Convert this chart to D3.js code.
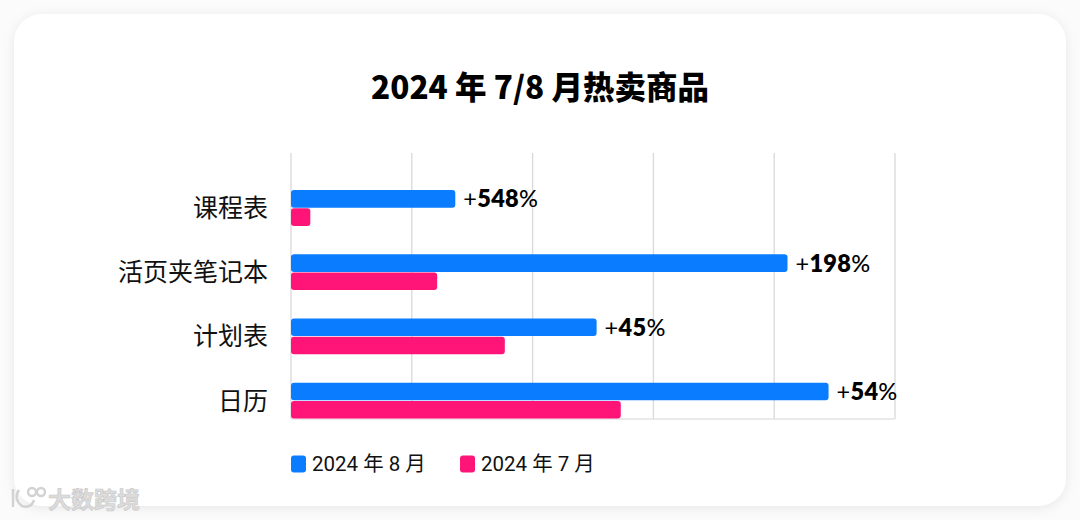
<!DOCTYPE html>
<html><head><meta charset="utf-8">
<script src="https://cdn.jsdelivr.net/npm/d3@7"></script>
<style>html,body{margin:0;padding:0;background:#fff;}svg{display:block;}</style>
</head><body>
<script>
const categories = ["课程表", "活页夹笔记本", "计划表", "日历"];
const aug2024 = [136, 411, 253, 445];
const jul2024 = [16, 121, 177, 273];
const growthLabels = ["548", "198", "45", "54"];
const xTicks = [0, 100, 200, 300, 400, 500];
const seriesNames = ["2024 年 8 月", "2024 年 7 月"];
const colors = ["#0a7cff", "#ff1477"];

const W = 1080, H = 520;
const svg = d3.select("body").append("svg").attr("width", W).attr("height", H);
const defs = svg.append("defs");
const f = defs.append("filter").attr("id","sh").attr("x","-5%").attr("y","-5%").attr("width","110%").attr("height","115%");
f.append("feDropShadow").attr("dx",0).attr("dy",2).attr("stdDeviation",6).attr("flood-color","#000").attr("flood-opacity",0.08);

svg.append("rect").attr("width",W).attr("height",H).attr("fill","#fbfbfb");
svg.append("rect").attr("x",14).attr("y",14).attr("width",1052).attr("height",492)
  .attr("rx",28).attr("fill","#fff").attr("filter","url(#sh)");

const cjk = "'Noto Sans CJK SC', 'Noto Sans', sans-serif";
svg.append("text").attr("x",540).attr("y",99).attr("text-anchor","middle")
  .attr("font-family",cjk).attr("font-weight",900).attr("font-size",31.5).attr("fill","#000")
  .text("2024 年 7/8 月热卖商品");

const x = d3.scaleLinear().domain([0, 500]).range([291, 895]);
const y = d3.scaleBand().domain(categories).range([175.9, 432.7]);
const plotTop = 153, plotBottom = 419;

// grid
svg.append("g").selectAll("line").data(xTicks).join("line")
  .attr("x1", d => x(d)).attr("x2", d => x(d)).attr("y1", plotTop).attr("y2", plotBottom)
  .attr("stroke", "#d9d9d9").attr("stroke-width", 1.3);
svg.append("line").attr("x1", x(0)).attr("x2", x(500)).attr("y1", plotBottom).attr("y2", plotBottom)
  .attr("stroke","#e3e3e3").attr("stroke-width",1.3);

const barH = 17.6, gap = 0.6;
const cy = c => y(c) + y.bandwidth()/2;

svg.append("g").selectAll("rect").data(categories).join("rect")
  .attr("x", x(0)).attr("y", c => cy(c) - gap/2 - barH)
  .attr("width", (c,i) => x(aug2024[i]) - x(0)).attr("height", barH)
  .attr("rx", 3).attr("fill", colors[0]);
svg.append("g").selectAll("rect").data(categories).join("rect")
  .attr("x", x(0)).attr("y", c => cy(c) + gap/2)
  .attr("width", (c,i) => x(jul2024[i]) - x(0)).attr("height", barH)
  .attr("rx", 3).attr("fill", colors[1]);

// category labels
svg.append("g").selectAll("text").data(categories).join("text")
  .attr("x", 268).attr("y", c => cy(c)).attr("dy", "0.36em").attr("text-anchor","end")
  .attr("font-family", cjk).attr("font-size", 25).attr("fill","#111").text(c => c);

// growth labels
const num = "Lato, 'Open Sans', sans-serif";
const gl = svg.append("g").selectAll("text").data(categories).join("text")
  .attr("x", (c,i) => x(aug2024[i]) + 8).attr("y", c => cy(c) - gap/2 - barH/2)
  .attr("dy","0.36em").attr("font-family", num).attr("font-size", 23.5).attr("fill","#000")
  .attr("letter-spacing", 0.3);
gl.append("tspan").attr("font-weight",400).text("+");
gl.append("tspan").attr("font-weight",800).text((c,i) => growthLabels[i]);
gl.append("tspan").attr("font-weight",500).text("%");

// legend
const lg = svg.append("g");
const legX = [291, 460];
seriesNames.forEach((s,i) => {
  lg.append("rect").attr("x", legX[i]).attr("y", 455.5).attr("width", 15).attr("height", 17)
    .attr("rx", 3).attr("fill", colors[i]);
  lg.append("text").attr("x", legX[i] + 21).attr("y", 464).attr("dy","0.36em")
    .attr("font-family", "Roboto, 'Noto Sans CJK SC', sans-serif").attr("font-size", 20.5).attr("fill","#111").text(s);
});

// watermark
const wm = svg.append("g").attr("fill","none").attr("stroke","#d2d2d2").attr("stroke-width",2.4);
wm.append("path").attr("d","M13,489 L13,507 M19,490 Q13,499 22,506 Q31,509 34,500");
wm.append("circle").attr("cx",32).attr("cy",492).attr("r",4);
wm.append("circle").attr("cx",41).attr("cy",492).attr("r",4);
svg.append("text").attr("x",48).attr("y",508).attr("font-family",cjk).attr("font-weight",700)
  .attr("font-size",23).attr("fill","#dcdcdc").attr("stroke","#c8c8c8").attr("stroke-width",0.6).text("大数跨境");
</script>
</body></html>
